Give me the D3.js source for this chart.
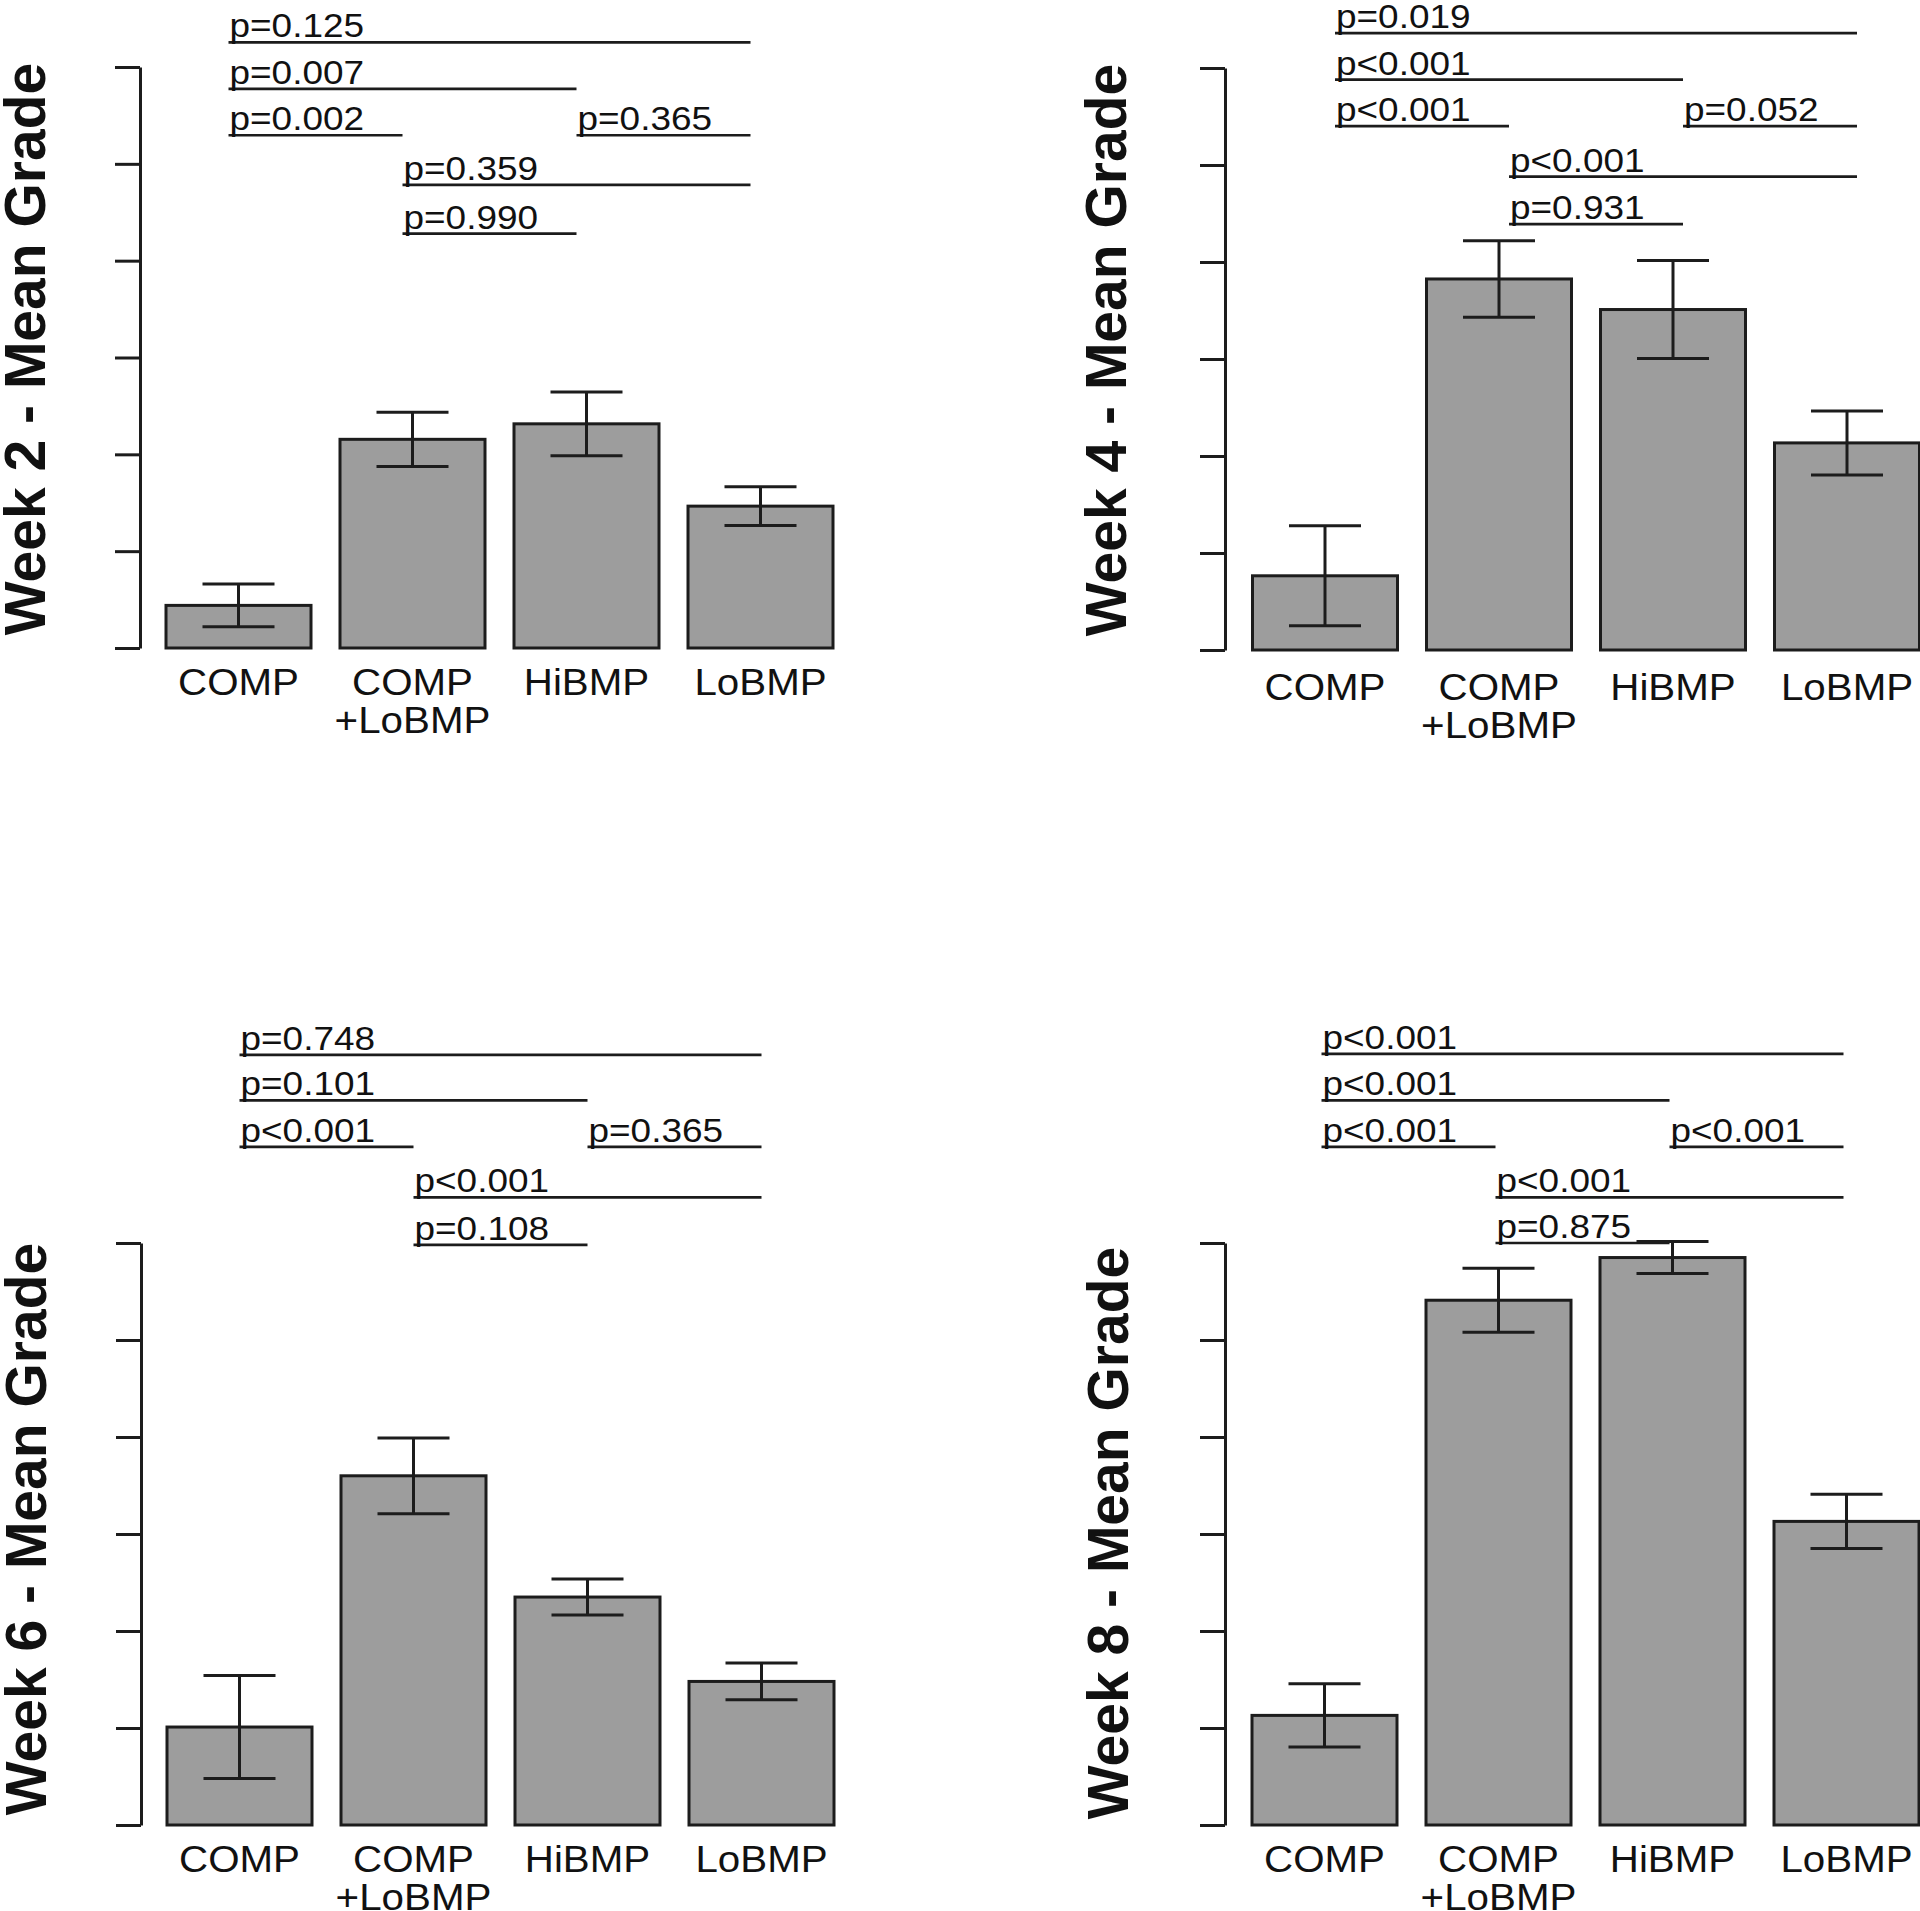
<!DOCTYPE html>
<html>
<head>
<meta charset="utf-8">
<script src="https://cdn.jsdelivr.net/npm/d3@7"></script>
<style>
  html, body { margin: 0; padding: 0; background: #fff; }
  svg { display: block; }
  text { font-family: "Liberation Sans", Arial, Helvetica, sans-serif; fill: #111; }
</style>
</head>
<body>
<div id="chart"></div>
<script>
// ---------------- DATA ----------------
const categories = ["COMP", "COMP\n+LoBMP", "HiBMP", "LoBMP"];
const weeks = ["Week 2", "Week 4", "Week 6", "Week 8"];

const week2Means = [0.44, 2.155, 2.315, 1.465];
const week2SE    = [0.22, 0.28, 0.33, 0.20];
const week4Means = [0.765, 3.825, 3.51, 2.135];
const week4SE    = [0.515, 0.395, 0.505, 0.33];
const week6Means = [1.01, 3.6, 2.35, 1.48];
const week6SE    = [0.53, 0.39, 0.185, 0.19];
const week8Means = [1.13, 5.41, 5.85, 3.13];
const week8SE    = [0.325, 0.33, 0.165, 0.28];

// pairwise comparisons (index pairs) and their p-values
const comparisonPairs = [[0, 3], [0, 2], [0, 1], [2, 3], [1, 3], [1, 2]];
const week2P = ["p=0.125", "p=0.007", "p=0.002", "p=0.365", "p=0.359", "p=0.990"];
const week4P = ["p=0.019", "p<0.001", "p<0.001", "p=0.052", "p<0.001", "p=0.931"];
const week6P = ["p=0.748", "p=0.101", "p<0.001", "p=0.365", "p<0.001", "p=0.108"];
const week8P = ["p<0.001", "p<0.001", "p<0.001", "p<0.001", "p<0.001", "p=0.875"];

const yTicks = [0, 1, 2, 3, 4, 5, 6];

// ---------------- LAYOUT ----------------
const W = 1920, H = 1911;
const pairLevel = [0, 1, 2, 2, 3, 4]; // bracket row for each comparison
const panels = [
  { means: week2Means, se: week2SE, p: week2P, title: weeks[0],
    axisX: 140, yTop: 67, yBot: 648, barLeft: 166, titleX: 45, titleY: 349,
    lineOff: -10, labelDy: 0, levels: [6.255, 5.775, 5.295, 4.782, 4.28] },
  { means: week4Means, se: week4SE, p: week4P, title: weeks[1],
    axisX: 1225, yTop: 68, yBot: 650, barLeft: 1252.5, titleX: 1126, titleY: 350,
    lineOff: 10, labelDy: 3, levels: [6.36, 5.88, 5.40, 4.88, 4.39] },
  { means: week6Means, se: week6SE, p: week6P, title: weeks[2],
    axisX: 141, yTop: 1243, yBot: 1825, barLeft: 167, titleX: 46, titleY: 1529,
    lineOff: 0, labelDy: 0, levels: [7.94, 7.47, 6.99, 6.47, 5.98] },
  { means: week8Means, se: week8SE, p: week8P, title: weeks[3],
    axisX: 1225, yTop: 1243, yBot: 1825, barLeft: 1252, titleX: 1128, titleY: 1533,
    lineOff: -3, labelDy: 0, levels: [7.95, 7.47, 6.99, 6.47, 6.0] }
];

const svg = d3.select("#chart").append("svg")
  .attr("width", W).attr("height", H);

const ink = "#1c1c1c";
const step = 174, gap = 29;

panels.forEach(P => {
  const g = svg.append("g");
  const x = d3.scaleBand()
    .domain(categories)
    .range([P.barLeft - gap / 2, P.barLeft - gap / 2 + step * categories.length])
    .paddingInner(gap / step)
    .paddingOuter(gap / step / 2);
  const y = d3.scaleLinear().domain([0, 6]).range([P.yBot, P.yTop]);

  // y axis (ticks only, no labels)
  const axis = d3.axisLeft(y).tickValues(yTicks).tickFormat("").tickSize(25).tickSizeOuter(0);
  const ag = g.append("g").attr("transform", `translate(${P.axisX},0)`).call(axis);
  ag.select(".domain").attr("stroke", ink).attr("stroke-width", 3);
  ag.selectAll(".tick line").attr("stroke", ink).attr("stroke-width", 3);

  // bars
  g.selectAll("rect.bar").data(categories).join("rect")
    .attr("class", "bar")
    .attr("x", d => x(d))
    .attr("width", x.bandwidth())
    .attr("y", (d, i) => y(P.means[i]))
    .attr("height", (d, i) => y(0) - y(P.means[i]))
    .attr("fill", "#9d9d9d")
    .attr("stroke", ink)
    .attr("stroke-width", 3);

  // error bars
  const capW = 72;
  categories.forEach((c, i) => {
    const cx = x(c) + x.bandwidth() / 2;
    const lo = y(P.means[i] - P.se[i]), hi = y(P.means[i] + P.se[i]);
    const eg = g.append("g").attr("stroke", ink).attr("stroke-width", 3);
    eg.append("line").attr("x1", cx).attr("x2", cx).attr("y1", lo).attr("y2", hi);
    eg.append("line").attr("x1", cx - capW / 2).attr("x2", cx + capW / 2).attr("y1", lo).attr("y2", lo);
    eg.append("line").attr("x1", cx - capW / 2).attr("x2", cx + capW / 2).attr("y1", hi).attr("y2", hi);
  });

  // category labels
  categories.forEach(c => {
    const cx = x(c) + x.bandwidth() / 2;
    c.split("\n").forEach((line, k) => {
      g.append("text")
        .attr("transform", `translate(${cx},${P.yBot + 47 + P.labelDy + k * 38}) scale(1.09,1)`)
        .attr("text-anchor", "middle")
        .style("font-size", "37px")
        .text(line);
    });
  });

  // comparison brackets
  comparisonPairs.forEach((pr, k) => {
    const x1 = x(categories[pr[0]]) + x.bandwidth() / 2 + P.lineOff;
    const x2 = x(categories[pr[1]]) + x.bandwidth() / 2 + P.lineOff;
    const ly = y(P.levels[pairLevel[k]]);
    g.append("line")
      .attr("x1", x1).attr("x2", x2).attr("y1", ly).attr("y2", ly)
      .attr("stroke", ink).attr("stroke-width", 2.7);
    g.append("text")
      .attr("transform", `translate(${x1 + 1},${ly - 5}) scale(1.12,1)`)
      .style("font-size", "33px")
      .text(P.p[k]);
  });

  // y title
  g.append("text")
    .attr("transform", `translate(${P.titleX},${P.titleY}) rotate(-90)`)
    .attr("text-anchor", "middle")
    .style("font-size", "57px")
    .style("font-weight", "bold")
    .text(P.title + " - Mean Grade");
});
</script>
</body>
</html>
